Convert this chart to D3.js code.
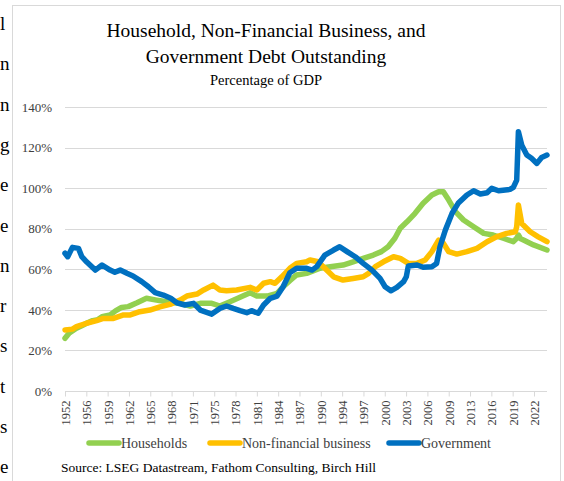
<!DOCTYPE html>
<html lang="en">
<head>
    <meta charset="UTF-8">
    <title>Debt Outstanding</title>
    <script src="https://d3js.org/d3.v7.min.js"></script>
    <style>
        body {
            margin: 0;
            background: #fff;
        }
        svg {
            display: block;
            font-family: "Liberation Serif", "DejaVu Serif", serif;
        }
        .grid line {
            stroke: #d9d9d9;
        }
        .series {
            fill: none;
            stroke-width: 5.5;
            stroke-linejoin: round;
            stroke-linecap: round;
        }
    </style>
</head>
<body>
    <div id="chart"></div>

    <script>
        // [year, % of GDP]
        const households = [
            [1952.9, 26], [1953.5, 28.5], [1954.6, 30.9], [1955.3, 32], [1956.1, 33.4], [1957, 34.7],
            [1957.8, 35.2], [1958.4, 36.6], [1959.6, 37.5], [1960.4, 39.5], [1961.3, 41.2], [1962.3, 41.6],
            [1963.6, 43.5], [1965.0, 45.7], [1966.5, 44.8], [1968.0, 44.0], [1970, 43.2], [1971.5, 41.9],
            [1973, 43.2], [1974.7, 43.2], [1975.9, 41.9], [1977.4, 44.0], [1978.9, 46.2], [1980.4, 48.4],
            [1981.4, 46.8], [1982.9, 46.8], [1984.4, 48.1], [1985.3, 51.4], [1986.3, 54.4], [1987.3, 57.2],
            [1988.8, 58.0], [1990.8, 60.5], [1992.3, 61.3], [1994.2, 62.1], [1995.7, 63.7], [1997.2, 65.4],
            [1998.7, 67.0], [1999.9, 68.7], [2000.9, 71.1], [2001.9, 75.3], [2002.7, 80.2], [2003.7, 83.4],
            [2004.9, 87.6], [2006.1, 92.5], [2007.4, 96.6], [2008.4, 98.2], [2009.1, 98.2], [2009.9, 94.1],
            [2010.9, 88.4], [2012.1, 84.3], [2013.6, 81.0], [2015.1, 77.7], [2016.5, 76.9], [2018.0, 75.3],
            [2019.5, 73.6], [2020.0, 75.3], [2020.25, 76.9], [2020.6, 75], [2021.0, 74.4], [2022.5, 72.0],
            [2024.5, 69.5]
        ];

        const business = [
            [1952.9, 30.1], [1954, 30.5], [1954.6, 31.7], [1956.1, 33.4], [1957.6, 34.7], [1958.6, 35.8],
            [1960.1, 35.8], [1961.6, 37.5], [1962.6, 37.5], [1964, 39.1], [1965.5, 39.9], [1967, 41.5],
            [1968.5, 42.7], [1970, 44.8], [1971, 46.8], [1972.5, 47.8], [1973.5, 49.8], [1974.9, 52.2],
            [1975.9, 49.8], [1976.9, 49.4], [1978.4, 49.8], [1980.4, 51.1], [1981.4, 49.8], [1982.4, 53.1],
            [1983.4, 53.9], [1984.1, 53.1], [1985.1, 56.3], [1986.3, 60.5], [1987.3, 62.9], [1988.8, 63.7],
            [1989.3, 64.6], [1990.5, 63.7], [1991.5, 60.5], [1992.8, 56.3], [1994.2, 54.7], [1995.7, 55.5],
            [1997.2, 56.3], [1998, 58.0], [1999, 61.3], [2000.2, 63.7], [2001.7, 66.2], [2002.7, 65.4],
            [2003.9, 62.9], [2005.2, 62.9], [2006.4, 64.6], [2007.4, 68.7], [2008.4, 74.4], [2009.1, 72.8],
            [2009.9, 68.7], [2011.1, 67.5], [2012.6, 68.7], [2014.1, 70.3], [2015.6, 73.6], [2017.0, 76.0],
            [2018.5, 77.7], [2019.8, 78.5], [2020.0, 81], [2020.25, 91.7], [2020.75, 82.6], [2022.0, 78.5],
            [2023.2, 76.0], [2024.5, 73.6]
        ];

        const government = [
            [1952.9, 67.9], [1953.3, 66.2], [1954.0, 70.8], [1954.9, 70.3], [1955.4, 66.2], [1956.1, 63.7],
            [1957.4, 59.6], [1958.4, 62.1], [1959.6, 59.6], [1960.3, 58.5], [1961.1, 59.6], [1962.1, 58.0],
            [1963.0, 56.7], [1964.3, 53.9], [1965.3, 51.4], [1966.3, 48.5], [1967.5, 47.3], [1968.6, 45.7],
            [1969.5, 43.5], [1970.7, 42.4], [1972.0, 43.2], [1973.0, 39.9], [1974.7, 37.9], [1975.9, 40.7],
            [1976.9, 41.9], [1977.9, 40.7], [1978.9, 39.6], [1979.9, 38.6], [1980.6, 39.6], [1981.6, 38.3],
            [1982.4, 42.4], [1983.4, 45.7], [1984.4, 46.8], [1985.3, 51.4], [1986.3, 58.3], [1987.3, 60.5],
            [1988.8, 60.5], [1989.6, 59.6], [1990.3, 61.3], [1991.5, 67.0], [1992.8, 69.5], [1993.7, 71.1],
            [1994.8, 68.7], [1996.0, 66.2], [1997.2, 62.9], [1998.5, 59.6], [1999.7, 55.5], [2000.45, 51.4],
            [2001.3, 49.4], [2002.2, 51.1], [2003.2, 53.9], [2003.6, 56.3], [2003.9, 61.6], [2005.2, 62.1],
            [2006.1, 61.0], [2007.4, 61.3], [2008.1, 62.9], [2008.6, 71.1], [2009.4, 79.3], [2010.4, 87.6],
            [2011.3, 92.5], [2012.6, 96.6], [2013.6, 98.7], [2014.6, 97.1], [2015.6, 97.7], [2016.3, 99.9],
            [2017.3, 98.7], [2018.3, 99.1], [2019.0, 99.4], [2019.5, 100.4], [2020.0, 104], [2020.25, 127.8],
            [2020.75, 121.2], [2021.5, 116.3], [2022.2, 114.7], [2023.0, 112.2], [2023.7, 115.1], [2024.5, 116.3]
        ];

        const seriesNames = ["Households", "Non-financial business", "Government"];
        const seriesColors = ["#92d050", "#ffc000", "#0070c0"];
        const xTickLabels = ["1952", "1956", "1959", "1962", "1965", "1968", "1971", "1975", "1978", "1981",
            "1984", "1987", "1990", "1994", "1997", "2000", "2003", "2006", "2009", "2013", "2016", "2019", "2022"];
        const yTicks = [0, 20, 40, 60, 80, 100, 120, 140];
        // letters of the page text that shows at the left edge of the screenshot
        const edgeLetters = ["l", "n", "n", "g", "e", "e", "n", "r", "s", "t", "s", "e"];

        const width = 564, height = 481;
        const svg = d3.select("#chart").append("svg")
            .attr("width", width)
            .attr("height", height);

        svg.append("g")
            .selectAll("text")
            .data(edgeLetters)
            .enter()
            .append("text")
            .attr("x", 0)
            .attr("y", (d, i) => 30 + i * 40.3)
            .style("font-size", "19px")
            .text(d => d);

        // chart frame
        svg.append("rect")
            .attr("x", 12.5)
            .attr("y", 5.5)
            .attr("width", 548)
            .attr("height", 490)
            .attr("fill", "none")
            .attr("stroke", "#d9d9d9");

        const title = svg.append("g").attr("text-anchor", "middle").attr("fill", "#000");
        title.append("text").attr("x", 266).attr("y", 37).style("font-size", "19.5px")
            .text("Household, Non-Financial Business, and");
        title.append("text").attr("x", 266).attr("y", 63).style("font-size", "19.5px")
            .text("Government Debt Outstanding");
        title.append("text").attr("x", 266).attr("y", 85).style("font-size", "14.5px")
            .text("Percentage of GDP");

        const x = d3.scaleLinear().domain([1952.9, 2024.5]).range([65, 547]);
        const y = d3.scaleLinear().domain([0, 140]).range([391, 107]);

        // gridlines
        svg.append("g")
            .attr("class", "grid")
            .selectAll("line")
            .data(yTicks.filter(d => d > 0))
            .enter()
            .append("line")
            .attr("x1", 65)
            .attr("x2", 547)
            .attr("y1", d => Math.round(y(d)) + 0.5)
            .attr("y2", d => Math.round(y(d)) + 0.5);

        const yAxis = svg.append("g")
            .attr("transform", "translate(65,0)")
            .call(d3.axisLeft(y).tickValues(yTicks).tickSize(0).tickPadding(13).tickFormat(d => d + "%"));
        yAxis.select(".domain").remove();
        yAxis.selectAll("text")
            .style("font-family", "Liberation Serif, serif")
            .style("font-size", "13px")
            .attr("fill", "#404040");

        // category-style axis: one label every 38 months
        const tickStep = 38 / 12;
        const xAxis = svg.append("g")
            .attr("transform", `translate(0,${Math.round(y(0)) + 0.5})`)
            .call(d3.axisBottom(x)
                .tickValues(xTickLabels.map((d, i) => 1952.9 + i * tickStep))
                .tickFormat((d, i) => xTickLabels[i])
                .tickSize(5)
                .tickSizeOuter(0));
        xAxis.select(".domain").attr("stroke", "#d9d9d9").attr("d", "M65,0H547");
        xAxis.selectAll(".tick line").attr("stroke", "#d9d9d9");
        xAxis.selectAll("text")
            .attr("transform", "rotate(-90)")
            .attr("x", -9)
            .attr("y", 0)
            .attr("dy", "0.35em")
            .attr("text-anchor", "end")
            .style("font-family", "Liberation Serif, serif")
            .style("font-size", "12.5px")
            .attr("fill", "#404040");

        const line = d3.line()
            .x(d => x(d[0]))
            .y(d => y(d[1]));

        svg.append("g")
            .selectAll("path")
            .data([households, business, government])
            .enter()
            .append("path")
            .attr("class", "series")
            .attr("stroke", (d, i) => seriesColors[i])
            .attr("d", line);

        // legend
        const legendX = [89, 210, 389];
        const legend = svg.append("g")
            .selectAll("g")
            .data(seriesNames)
            .enter()
            .append("g")
            .attr("transform", (d, i) => `translate(${legendX[i]},443)`);
        legend.append("line")
            .attr("x1", 0).attr("x2", 30)
            .attr("stroke", (d, i) => seriesColors[i])
            .attr("stroke-width", 5.5)
            .attr("stroke-linecap", "round");
        legend.append("text")
            .attr("x", 32)
            .attr("dy", "0.35em")
            .style("font-size", "14px")
            .attr("fill", "#404040")
            .text(d => d);

        svg.append("text")
            .attr("x", 61)
            .attr("y", 472)
            .style("font-size", "13.5px")
            .attr("fill", "#000")
            .text("Source:  LSEG Datastream, Fathom Consulting, Birch Hill");
    </script>
</body>
</html>
